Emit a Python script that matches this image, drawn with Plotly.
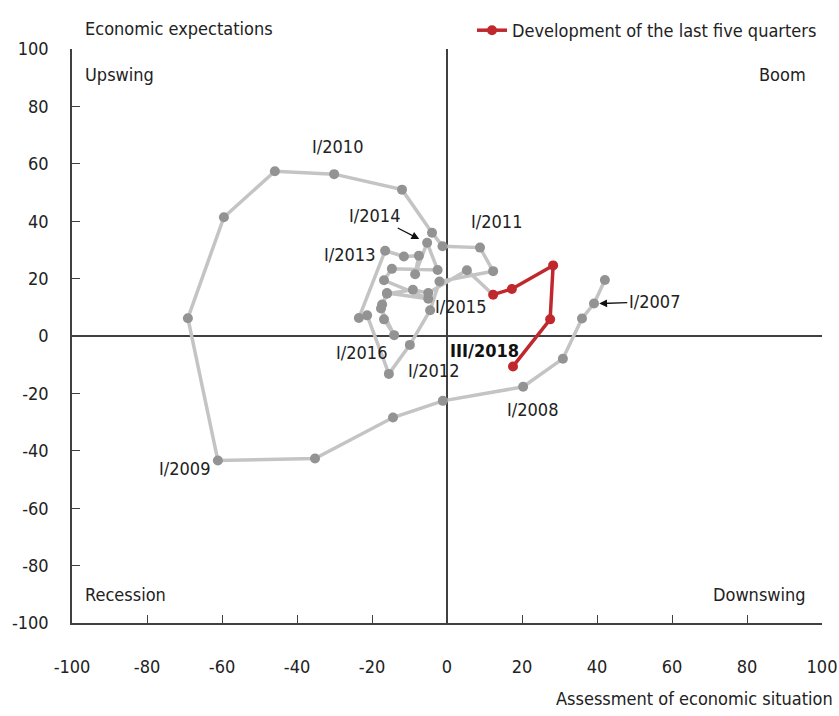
import plotly.graph_objects as go

# Gray path: quarterly points from I/2007 to II/2017
gray_x = [42.1, 39.2, 36.0, 30.9,
          20.3, -1.1, -14.4, -35.2,
          -61.1, -69.1, -59.5, -45.9,
          -30.1, -12.0, -4.0, -1.2,
          8.8, 12.3, -2.0, -4.5,
          -9.9, -15.5, -21.3, -23.5,
          -16.5, -11.5, -7.5, -8.5,
          -5.3, -2.5, -14.7, -16.8,
          -5.0, -16.0, -17.3, -16.8,
          -14.1, -17.6, -16.0, -9.1,
          -5.0, 5.3]
gray_y = [19.5, 11.3, 6.1, -7.9,
          -17.7, -22.6, -28.4, -42.7,
          -43.4, 6.2, 41.4, 57.4,
          56.4, 51.0, 36.0, 31.3,
          30.8, 22.6, 19.0, 9.0,
          -3.1, -13.2, 7.2, 6.3,
          29.7, 27.7, 28.0, 21.5,
          32.5, 23.0, 23.4, 19.4,
          13.0, 15.0, 11.0, 5.8,
          0.3, 9.6, 14.7, 16.1,
          15.0, 22.9]

# Red path: last five quarters (III/2017 .. III/2018)
red_x = [12.3, 17.3, 28.3, 27.5, 17.6]
red_y = [14.4, 16.4, 24.6, 5.8, -10.6]

tick_vals = [-100, -80, -60, -40, -20, 0, 20, 40, 60, 80, 100]
tick_text = ["-100", "-80", "-60", "-40", "-20", "0", "20", "40", "60", "80", "100"]
legend_name = "Development of the last five quarters"

FONT = "DejaVu Sans Condensed, Roboto, sans-serif"
FS = 18
GRAY_LINE = "#c4c4c4"
GRAY_DOT = "#939393"
RED = "#c0282d"

fig = go.Figure()
fig.add_trace(go.Scatter(
    x=gray_x + [red_x[0]], y=gray_y + [red_y[0]],
    mode="lines", line=dict(color=GRAY_LINE, width=3.5),
    showlegend=False, hoverinfo="skip"))
fig.add_trace(go.Scatter(
    x=gray_x, y=gray_y, mode="markers",
    marker=dict(color=GRAY_DOT, size=10),
    showlegend=False))
fig.add_trace(go.Scatter(
    x=red_x, y=red_y, mode="lines+markers",
    line=dict(color=RED, width=3.5),
    marker=dict(color=RED, size=10),
    name=legend_name, showlegend=True))

labels = [
    ("I/2010", -29.1, 66.0),
    ("I/2011", 13.3, 40.0),
    ("I/2013", -25.9, 28.4),
    ("I/2015", 3.5, 10.3),
    ("I/2016", -22.7, -5.8),
    ("I/2012", -3.7, -12.0),
    ("I/2008", 22.7, -25.6),
    ("I/2009", -70.1, -46.2),
]
for t, x, y in labels:
    fig.add_annotation(x=x, y=y, text=t, showarrow=False,
                       font=dict(size=FS, color="#222222", family=FONT))

fig.add_annotation(x=9.9, y=-5.1, text="<b>III/2018</b>", showarrow=False,
                   font=dict(size=FS, color="#111111", family=FONT))

# arrowed labels
fig.add_annotation(x=-7.4, y=33.8, text="I/2014", showarrow=True,
                   arrowhead=2, arrowsize=1.2, arrowwidth=1.3, arrowcolor="#111111",
                   ax=-45, ay=-23, standoff=0,
                   font=dict(size=FS, color="#222222", family=FONT))
fig.add_annotation(x=40.6, y=11.3, text="I/2007", showarrow=True,
                   arrowhead=2, arrowsize=1.2, arrowwidth=1.3, arrowcolor="#111111",
                   ax=55, ay=-2, standoff=0,
                   font=dict(size=FS, color="#222222", family=FONT))

# quadrant labels
quad = [
    ("Upswing", 0.015, 0.956, "left"),
    ("Boom", 0.981, 0.956, "right"),
    ("Recession", 0.015, 0.05, "left"),
    ("Downswing", 0.981, 0.05, "right"),
]
for t, x, y, xa in quad:
    fig.add_annotation(x=x, y=y, xref="paper", yref="paper", text=t,
                       showarrow=False, xanchor=xa, yanchor="middle",
                       font=dict(size=FS, color="#222222", family=FONT))

fig.add_annotation(x=0.015, y=1.035, xref="paper", yref="paper",
                   text="Economic expectations", showarrow=False,
                   xanchor="left", yanchor="middle",
                   font=dict(size=FS, color="#222222", family=FONT))
fig.add_annotation(x=1.017, y=-0.132, xref="paper", yref="paper",
                   text="Assessment of economic situation", showarrow=False,
                   xanchor="right", yanchor="middle",
                   font=dict(size=FS, color="#222222", family=FONT))

axis_common = dict(
    range=[-100, 100], tickvals=tick_vals, ticktext=tick_text,
    ticks="inside", ticklen=8, automargin=False,
    tickcolor="#404040", showgrid=False, showline=True, linecolor="#404040",
    linewidth=1.5, zeroline=True, zerolinecolor="#404040", zerolinewidth=1.5,
    tickfont=dict(size=FS, color="#222222", family=FONT), fixedrange=True,
)
fig.update_xaxes(**axis_common, ticklabelstandoff=27)
fig.update_yaxes(**axis_common, ticklabelstandoff=18)

fig.update_layout(
    width=839, height=716,
    margin=dict(l=72, r=17, t=42, b=93),
    plot_bgcolor="white", paper_bgcolor="white",
    font=dict(family=FONT, size=FS, color="#222222"),
    showlegend=True,
    legend=dict(x=1.0, y=1.0, xanchor="right", yanchor="bottom",
                orientation="h", bgcolor="rgba(0,0,0,0)",
                font=dict(size=FS, family=FONT), itemwidth=30),
)

fig.write_html("out.html", config={"displayModeBar": False},
               post_script="document.body.style.margin='0';"
                           "document.body.style.overflow='hidden';")
